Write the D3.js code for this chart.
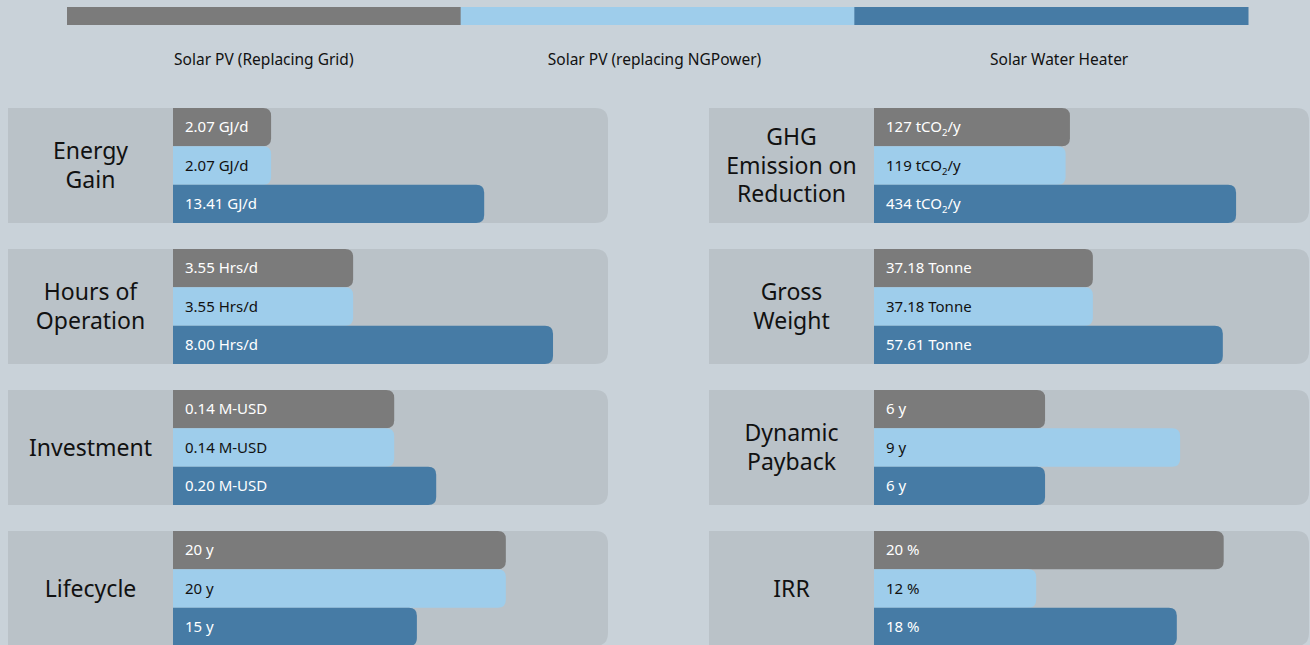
<!DOCTYPE html>
<html><head><meta charset="utf-8">
<script src="https://cdn.jsdelivr.net/npm/d3@7"></script>
<style>
html,body{margin:0;padding:0;background:#c9d2d9;}
svg{display:block;}
text{font-family:"Noto Sans","DejaVu Sans",sans-serif;}
</style></head>
<body>
<svg id="chart" width="1310" height="645"></svg>
<script>
// ---- data ----
const series = ["Solar PV (Replacing Grid)", "Solar PV (replacing NGPower)", "Solar Water Heater"];
const metrics = ["Energy\nGain", "Hours of\nOperation", "Investment", "Lifecycle",
                 "GHG\nEmission on\nReduction", "Gross\nWeight", "Dynamic\nPayback", "IRR"];
const pvGrid = [2.07, 3.55, 0.14, 20, 127, 37.18, 6, 20];
const pvNGPower = [2.07, 3.55, 0.14, 20, 119, 37.18, 9, 12];
const solarWaterHeater = [13.41, 8.00, 0.20, 15, 434, 57.61, 6, 18];
const units = ["GJ/d", "Hrs/d", "M-USD", "y", "tCO2/y", "Tonne", "y", "%"];
const decimals = [2, 2, 2, 0, 0, 2, 0, 0];
// per-panel value axis domains (each panel has its own scale)
const domains = [[-3.15, 19.2], [-0.46, 8.89], [-0.176, 0.424], [1.29, 24.9],
                 [-235, 541], [2.77, 68.8], [2.2, 11.53], [5.08, 23.0]];

// ---- style ----
const colors = ["#7b7b7b", "#9ecdeb", "#467ba5"];
const textColors = ["#ffffff", "#111111", "#ffffff"];
const panelFill = "#bac2c8";
const W = 1310, H = 645;

const svg = d3.select("#chart");
svg.append("rect").attr("width", W).attr("height", H).attr("fill", "#c9d2d9");

// legend
const legendX = d3.scaleBand().domain(series).range([67, 1248]);
svg.selectAll("rect.leg").data(series).join("rect")
  .attr("class", "leg")
  .attr("x", d => legendX(d)).attr("y", 7)
  .attr("width", legendX.bandwidth() + 0.5).attr("height", 18)
  .attr("fill", (d, i) => colors[i]);
svg.selectAll("text.leg").data(series).join("text")
  .attr("class", "leg")
  .attr("x", (d, i) => legendX(d) + legendX.bandwidth() / 2 + [0, -3, 8][i])
  .attr("y", 65)
  .attr("text-anchor", "middle")
  .attr("font-size", 15.5)
  .attr("fill", "#111")
  .text(d => d);

// layout scales
const colX = d3.scaleBand().domain([0, 1]).range([8, 1309]).paddingInner(101 / 701);
const rowY = d3.scaleBand().domain([0, 1, 2, 3]).range([108, 646]).paddingInner(26 / 141);
const labelW = 165;
const barY = d3.scaleBand().domain(d3.range(series.length)).range([0, rowY.bandwidth()]);

function rightRounded(x, y, w, h, r) {
  r = Math.min(r, w, h / 2);
  return `M${x},${y}H${x + w - r}Q${x + w},${y} ${x + w},${y + r}V${y + h - r}Q${x + w},${y + h} ${x + w - r},${y + h}H${x}Z`;
}

const allSeries = [pvGrid, pvNGPower, solarWaterHeater];

metrics.forEach((m, k) => {
  const col = Math.floor(k / 4), row = k % 4;
  const px = colX(col), py = rowY(row), pw = colX.bandwidth(), ph = rowY.bandwidth();
  const g = svg.append("g");
  g.append("path").attr("d", rightRounded(px, py, pw, ph, 13)).attr("fill", panelFill);

  // category label
  const lines = m.split("\n");
  const lh = 28.5;
  const cx = px + labelW / 2, cy = py + ph / 2;
  const t = g.append("text").attr("text-anchor", "middle").attr("font-size", 23).attr("fill", "#111");
  lines.forEach((ln, i) => {
    t.append("tspan").attr("x", cx)
      .attr("y", cy + (i - (lines.length - 1) / 2) * lh + 8)
      .text(ln);
  });

  const x = d3.scaleLinear().domain(domains[k]).range([0, 420]);
  const bx = px + labelW;
  const vals = allSeries.map(s => s[k]);
  g.selectAll("path.bar").data(vals).join("path")
    .attr("class", "bar")
    .attr("d", (v, i) => rightRounded(bx, py + barY(i), x(v), barY.bandwidth(), 8))
    .attr("fill", (v, i) => colors[i]);

  const fmt = d3.format("." + decimals[k] + "f");
  vals.forEach((v, i) => {
    const tt = g.append("text")
      .attr("x", bx + 12)
      .attr("y", py + barY(i) + barY.bandwidth() / 2 + 5)
      .attr("font-size", 15)
      .attr("fill", textColors[i]);
    const u = units[k];
    if (u === "tCO2/y") {
      tt.append("tspan").text(fmt(v) + " tCO");
      tt.append("tspan").attr("font-size", 9.5).attr("dy", 4).text("2");
      tt.append("tspan").attr("dy", -4).text("/y");
    } else {
      tt.text(fmt(v) + " " + u);
    }
  });
});
</script>
</body></html>
